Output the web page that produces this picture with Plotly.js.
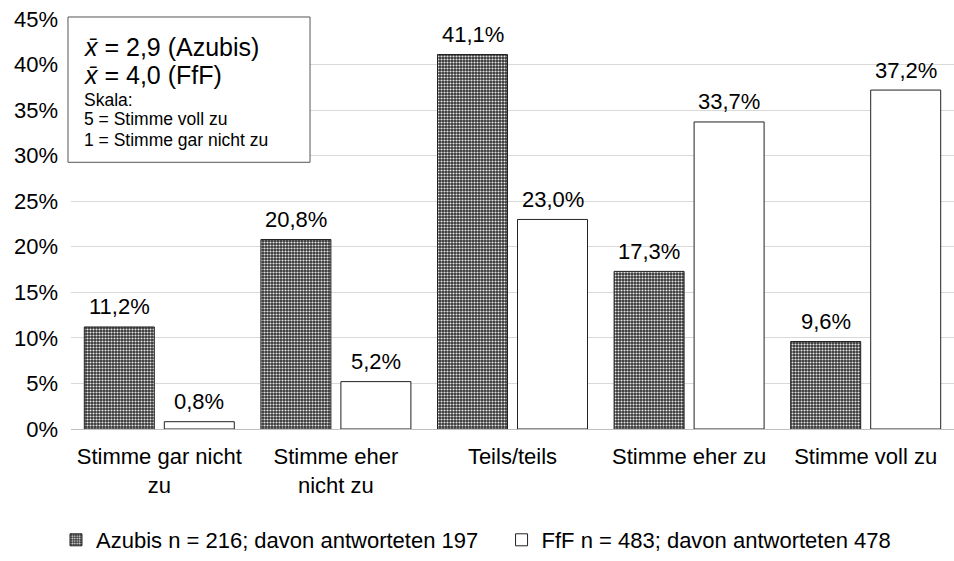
<!DOCTYPE html>
<html><head><meta charset="utf-8">
<script src="https://cdn.plot.ly/plotly-3.0.1.min.js"></script>
<style>body{margin:0;background:#fff}#c{width:954px;height:561px}</style>
</head><body><div id="c"></div>
<script>
const categories = ["Stimme gar nicht<br>zu", "Stimme eher<br>nicht zu", "Teils/teils", "Stimme eher zu", "Stimme voll zu"];
const azubis = [11.2, 20.8, 41.1, 17.3, 9.6];
const fff = [0.8, 5.2, 23.0, 33.7, 37.2];
const seriesNames = ["Azubis n = 216; davon antworteten 197\u00A0\u00A0\u00A0", "FfF n = 483; davon antworteten 478"];
const yTicks = [0, 5, 10, 15, 20, 25, 30, 35, 40, 45];
const boxLines = ["<i>x̄</i> = 2,9 (Azubis)", "<i>x̄</i> = 4,0 (FfF)", "Skala:", "5 = Stimme voll zu", "1 = Stimme gar nicht zu"];

const fam = "Liberation Sans, Arial, sans-serif";
const fmt = v => v.toFixed(1).replace(".", ",") + "%";
const traces = [
  {type: "bar", x: categories, y: azubis, name: seriesNames[0],
   marker: {color: "#fff", line: {color: "#222", width: 1},
            pattern: {shape: ".", fgcolor: "#e8e8e8", bgcolor: "#333", size: 3, solidity: 0.4, fillmode: "replace"}}},
  {type: "bar", x: categories, y: fff, name: seriesNames[1],
   marker: {color: "#fff", line: {color: "#222", width: 1}}}
];
const boxY = [0.932, 0.864, 0.803, 0.755, 0.706];
const boxSizes = [25, 25, 17.5, 17.5, 17.5];
const annotations = boxLines.map((t, i) => ({
  xref: "paper", yref: "paper", x: 0.0125, y: boxY[i], xanchor: "left", yanchor: "middle",
  showarrow: false, text: t, font: {family: fam, size: boxSizes[i], color: "#000"}
}));
[[azubis, -40], [fff, 40]].forEach(([vals, dx]) => {
  vals.forEach((v, i) => annotations.push({
    xref: "x", yref: "y", x: categories[i], y: v, xshift: dx, yshift: 20,
    xanchor: "center", yanchor: "middle", showarrow: false, text: fmt(v),
    font: {family: fam, size: 22, color: "#000"}
  }));
});
const layout = {
  width: 954, height: 561,
  margin: {l: 71, r: 0, t: 19, b: 130},
  paper_bgcolor: "#fff", plot_bgcolor: "#fff",
  font: {family: fam, size: 22, color: "#000"},
  barmode: "group", bargap: 0.094, bargroupgap: 0.125,
  showlegend: true,
  legend: {orientation: "h", x: -0.017, xanchor: "left", y: -0.272, yanchor: "middle",
           font: {size: 22, family: fam}, traceorder: "normal"},
  xaxis: {showline: false, ticks: "", tickfont: {size: 22}, showgrid: false, zeroline: false, ticklabelstandoff: 12},
  yaxis: {range: [0, 45], tickvals: yTicks, ticktext: yTicks.map(v => v + "%"),
          showgrid: true, gridcolor: "#d9d9d9", gridwidth: 1, zeroline: true, zerolinecolor: "#bfbfbf",
          zerolinewidth: 1, showline: false, ticks: "", tickfont: {size: 22}, ticklabelstandoff: 12},
  shapes: [{type: "rect", xref: "paper", yref: "paper", x0: -0.0034, x1: 0.2707, y0: 0.6505, y1: 1.0049,
            line: {color: "#555", width: 1}, fillcolor: "#fff", layer: "above"}],
  annotations: annotations
};
Plotly.newPlot("c", traces, layout, {displayModeBar: false, staticPlot: true});
</script></body></html>
